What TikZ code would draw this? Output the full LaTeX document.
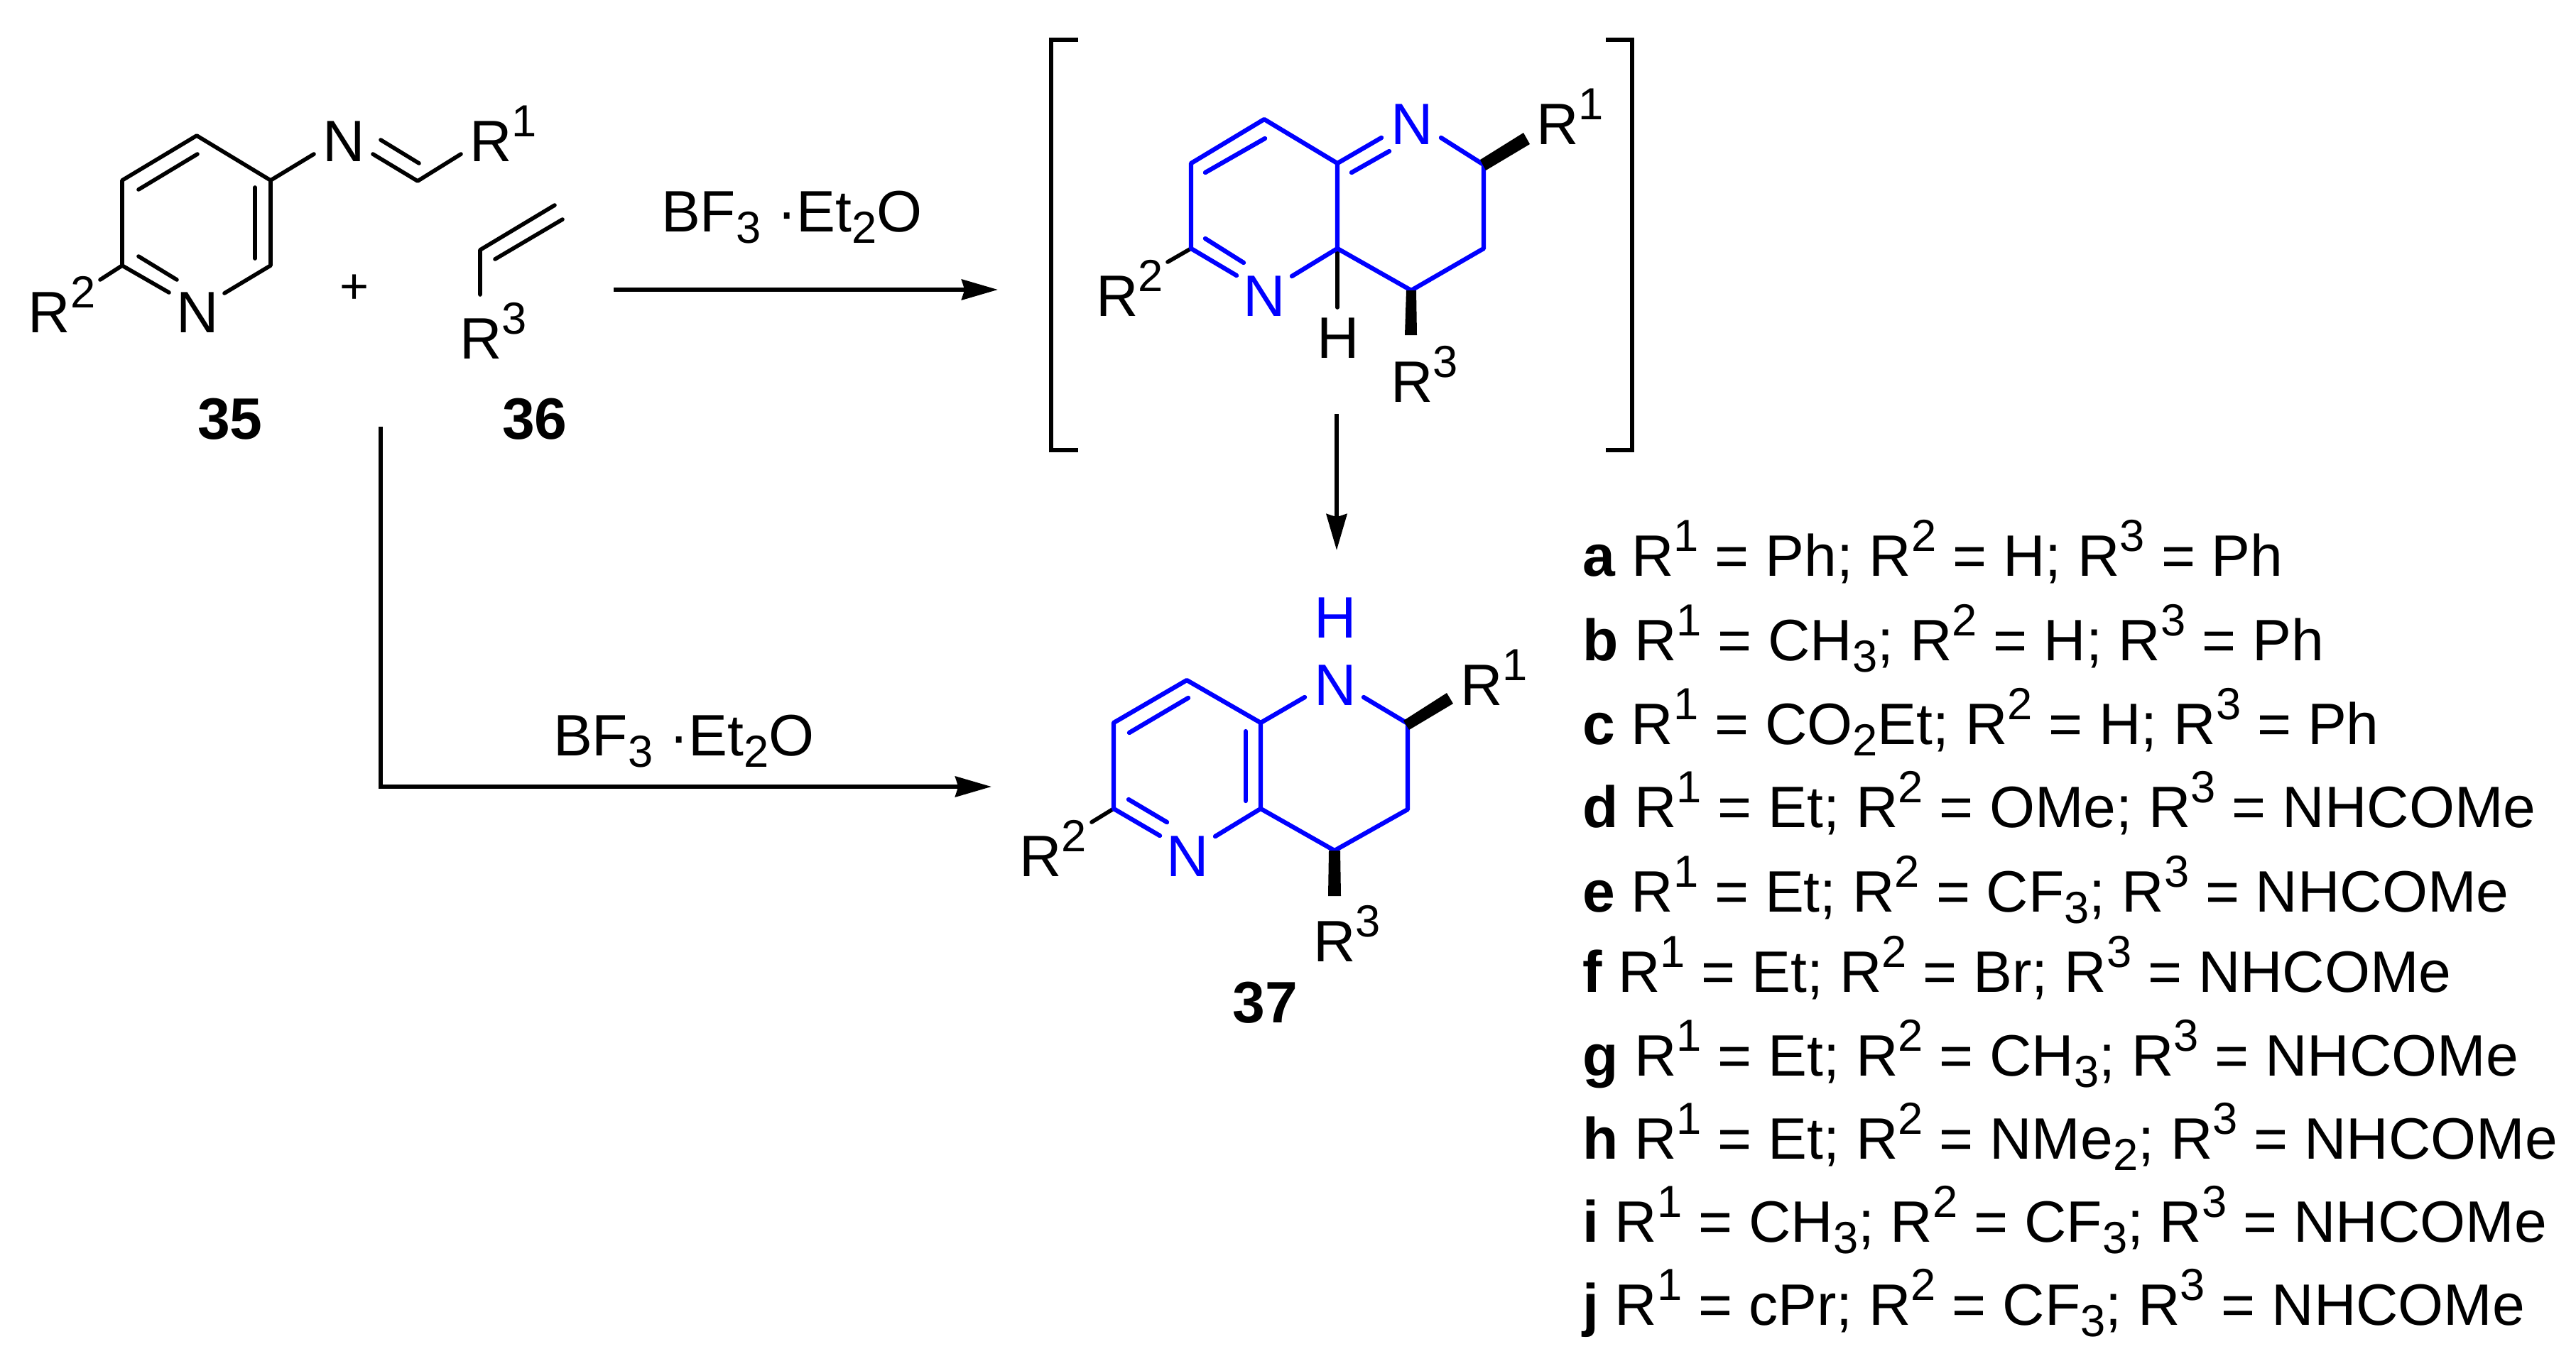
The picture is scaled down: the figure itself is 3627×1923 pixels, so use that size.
\documentclass[tikz,border=0pt]{standalone}
\usepackage{fontspec}
\setmainfont{Liberation Sans}
\usetikzlibrary{arrows.meta}
\definecolor{ringblue}{RGB}{0,0,255}
\newcommand{\hi}[1]{\raisebox{9.7pt}{\fontsize{18}{18}\selectfont #1}}
\newcommand{\lo}[1]{\raisebox{-4.8pt}{\fontsize{18}{18}\selectfont #1}}
\newcommand{\Rn}[1]{R\hi{#1}}
\tikzset{
  every node/.style={inner sep=0pt,outer sep=0pt,anchor=base west,font=\fontsize{23.4}{28}\selectfont},
  bondk/.style={draw=black,line width=1.6pt,line cap=round,line join=round},
  bondb/.style={draw=ringblue,line width=1.8pt,line cap=round,line join=round},
  rxn/.style={draw=black,line width=1.6pt,line join=miter,-{Stealth[length=14.5pt,width=8.2pt,inset=1.2pt]}},
  brk/.style={draw=black,line width=1.9pt,line join=miter},
  wedge/.style={fill=black,draw=none},
  blueatom/.style={text=ringblue},
  cmpd/.style={font=\fontsize{23.4}{28}\selectfont\bfseries,anchor=base},
  listrow/.style={font=\fontsize{23.4}{28}\selectfont}
}
\begin{document}
\begin{tikzpicture}[x=0.01cm,y=-0.01cm]
\path[fill=white] (0,0) rectangle (3627,1923);
\useasboundingbox (0,0) rectangle (3627,1923);

% ---------- compound 35
\coordinate (a1) at (277,191); \coordinate (a2) at (172,254); \coordinate (a3) at (172,374);
\coordinate (a4) at (238,412); \coordinate (a5) at (316,413); \coordinate (a6) at (381,374); \coordinate (a7) at (381,254);
\coordinate (a8) at (195,267); \coordinate (a9) at (278,217);
\coordinate (a10) at (195,361); \coordinate (a11) at (249,394);
\coordinate (a12) at (359,264); \coordinate (a13) at (359,364);
\coordinate (a14) at (141,394);
\coordinate (a15) at (442,217); \coordinate (a16) at (525,217); \coordinate (a17) at (588,255);
\coordinate (a18) at (536,197); \coordinate (a19) at (590,230); \coordinate (a20) at (649,217);
\draw[bondk] (a14) -- (a3) -- (a4);
\draw[bondk] (a5) -- (a6) -- (a7) -- (a1) -- (a2) -- (a3);
\draw[bondk] (a8) -- (a9);
\draw[bondk] (a10) -- (a11);
\draw[bondk] (a12) -- (a13);
\draw[bondk] (a7) -- (a15);
\draw[bondk] (a16) -- (a17) -- (a20);
\draw[bondk] (a18) -- (a19);
\node (n35r) at (248,468) {N};
\node (n35i) at (454,227) {N};
\node (r35a) at (661,227) {\Rn{1}};
\node (r35b) at (40,468) {\Rn{2}};
% ---------- alkene 36
\coordinate (v1) at (676,352); \coordinate (v2) at (781,289); \coordinate (v3) at (697,365);
\coordinate (v4) at (792,309); \coordinate (v5) at (676,415);
\draw[bondk] (v5) -- (v1) -- (v2);
\draw[bondk] (v3) -- (v4);
\node (r36) at (647,505) {\Rn{3}};
\node[anchor=center,font=\fontsize{20}{20}\selectfont] (plus) at (499,407) {+};
\node[cmpd] (l35) at (324,618) {35};
\node[cmpd] (l36) at (753,618) {36};

% ---------- brackets
\coordinate (bl1) at (1518,56); \coordinate (bl2) at (1480,56); \coordinate (bl3) at (1480,634); \coordinate (bl4) at (1518,634);
\coordinate (br1) at (2261,56); \coordinate (br2) at (2298,56); \coordinate (br3) at (2298,634); \coordinate (br4) at (2261,634);
\draw[brk] (bl1) -- (bl2) -- (bl3) -- (bl4);
\draw[brk] (br1) -- (br2) -- (br3) -- (br4);

% ---------- intermediate
\coordinate (b1) at (1780,168); \coordinate (b2) at (1677,230); \coordinate (b3) at (1677,350);
\coordinate (b4) at (1741,388); \coordinate (b5) at (1819,389); \coordinate (b6) at (1883,350);
\coordinate (b7) at (1883,230); \coordinate (b8) at (1945,194); \coordinate (b9) at (2029,194);
\coordinate (b10) at (2089,232); \coordinate (b11) at (2089,350); \coordinate (b12) at (1987,409);
\coordinate (b13) at (1697,243); \coordinate (b14) at (1781,195);
\coordinate (b15) at (1697,336); \coordinate (b16) at (1751,370);
\coordinate (b17) at (1903,243); \coordinate (b18) at (1956,213);
\coordinate (b19) at (1644,369); \coordinate (b20) at (1883,433);
\draw[bondk] (b19) -- (b3);
\draw[bondk] (b6) -- (b20);
\draw[bondb] (b4) -- (b3) -- (b2) -- (b1) -- (b7) -- (b8);
\draw[bondb] (b13) -- (b14);
\draw[bondb] (b15) -- (b16);
\draw[bondb] (b17) -- (b18);
\draw[bondb] (b5) -- (b6) -- (b7);
\draw[bondb] (b6) -- (b12) -- (b11) -- (b10) -- (b9);
\fill[wedge] (2084,225) -- (2145,187) -- (2154,203) -- (2092,240) -- cycle;
\fill[wedge] (1980,409) -- (1994,409) -- (1995,472) -- (1978,472) -- cycle;
\node[blueatom] (n2a) at (1750,445) {N};
\node[blueatom] (n2b) at (1958,203) {N};
\node (h2) at (1854,504) {H};
\node (r2a) at (2163,203) {\Rn{1}};
\node (r2b) at (1543,445) {\Rn{2}};
\node (r2c) at (1958,566) {\Rn{3}};

% ---------- product 37
\coordinate (c1) at (1671,958); \coordinate (c2) at (1568,1018); \coordinate (c3) at (1568,1139);
\coordinate (c4) at (1633,1177); \coordinate (c5) at (1711,1178); \coordinate (c6) at (1775,1139);
\coordinate (c7) at (1775,1018); \coordinate (c8) at (1837,982); \coordinate (c9) at (1920,982);
\coordinate (c10) at (1982,1019); \coordinate (c11) at (1982,1140); \coordinate (c12) at (1879,1198);
\coordinate (c13) at (1590,1032); \coordinate (c14) at (1673,983);
\coordinate (c15) at (1589,1126); \coordinate (c16) at (1643,1158);
\coordinate (c17) at (1754,1030); \coordinate (c18) at (1754,1128);
\coordinate (c19) at (1537,1158);
\draw[bondk] (c19) -- (c3);
\draw[bondb] (c4) -- (c3) -- (c2) -- (c1) -- (c7) -- (c8);
\draw[bondb] (c13) -- (c14);
\draw[bondb] (c15) -- (c16);
\draw[bondb] (c17) -- (c18);
\draw[bondb] (c5) -- (c6) -- (c7);
\draw[bondb] (c6) -- (c12) -- (c11) -- (c10) -- (c9);
\fill[wedge] (1976,1015) -- (2037,976) -- (2046,991) -- (1984,1028) -- cycle;
\fill[wedge] (1871,1198) -- (1887,1198) -- (1888,1262) -- (1870,1262) -- cycle;
\node[blueatom] (n3a) at (1642,1234) {N};
\node[blueatom] (n3b) at (1850,993) {N};
\node[blueatom] (h3) at (1850,898) {H};
\node (r3a) at (2056,993) {\Rn{1}};
\node (r3b) at (1435,1234) {\Rn{2}};
\node (r3c) at (1849,1354) {\Rn{3}};
\node[cmpd] (l37) at (1781,1440) {37};

% ---------- arrows
\coordinate (ar1s) at (864,408); \coordinate (ar1e) at (1405,408);
\coordinate (ar2s) at (1882,583); \coordinate (ar2e) at (1882,775);
\coordinate (ar3s) at (536,601); \coordinate (ar3c) at (536,1108); \coordinate (ar3e) at (1396,1108);
\draw[rxn] (ar1s) -- (ar1e);
\draw[rxn] (ar2s) -- (ar2e);
\draw[rxn] (ar3s) -- (ar3c) -- (ar3e);
\node (bf1) at (931,326) {BF\lo{3} ·Et\lo{2}O};
\node (bf2) at (779,1064) {BF\lo{3} ·Et\lo{2}O};

% ---------- substituent list
\node[listrow] (la) at (2228,811) {\textbf{a} \Rn{1} = Ph; \Rn{2} = H; \Rn{3} = Ph};
\node[listrow] (lb) at (2228,930) {\textbf{b} \Rn{1} = CH\lo{3}; \Rn{2} = H; \Rn{3} = Ph};
\node[listrow] (lc) at (2228,1048) {\textbf{c} \Rn{1} = CO\lo{2}Et; \Rn{2} = H; \Rn{3} = Ph};
\node[listrow] (ld) at (2228,1165) {\textbf{d} \Rn{1} = Et; \Rn{2} = OMe; \Rn{3} = NHCOMe};
\node[listrow] (le) at (2228,1284) {\textbf{e} \Rn{1} = Et; \Rn{2} = CF\lo{3}; \Rn{3} = NHCOMe};
\node[listrow] (lf) at (2228,1397) {\textbf{f} \Rn{1} = Et; \Rn{2} = Br; \Rn{3} = NHCOMe};
\node[listrow] (lg) at (2228,1515) {\textbf{g} \Rn{1} = Et; \Rn{2} = CH\lo{3}; \Rn{3} = NHCOMe};
\node[listrow] (lh) at (2228,1632) {\textbf{h} \Rn{1} = Et; \Rn{2} = NMe\lo{2}; \Rn{3} = NHCOMe};
\node[listrow] (li) at (2228,1749) {\textbf{i} \Rn{1} = CH\lo{3}; \Rn{2} = CF\lo{3}; \Rn{3} = NHCOMe};
\node[listrow] (lj) at (2228,1866) {\textbf{j} \Rn{1} = cPr; \Rn{2} = CF\lo{3}; \Rn{3} = NHCOMe};
\end{tikzpicture}
\end{document}
